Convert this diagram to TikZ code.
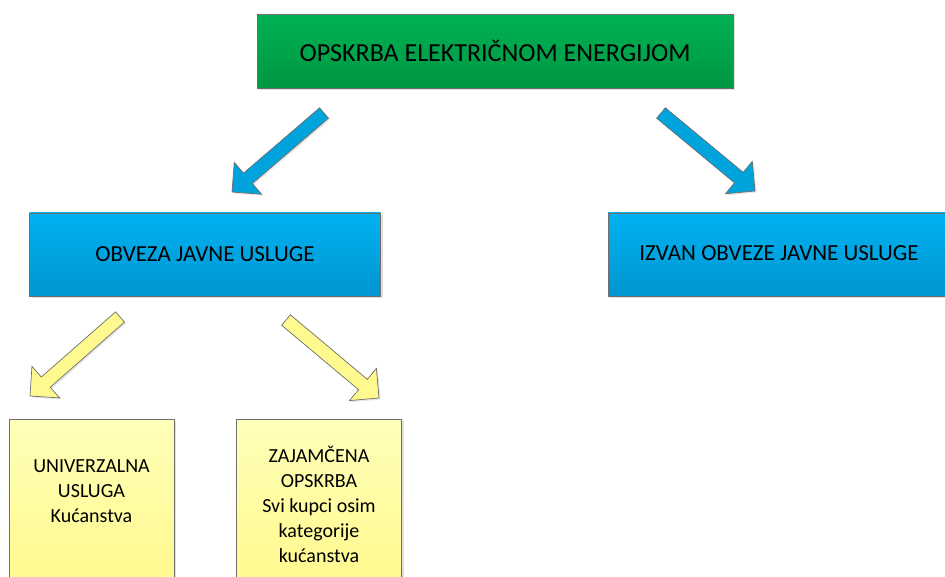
\documentclass[tikz,border=0pt]{standalone}
\usepackage{fontspec}
\setmainfont{Carlito}
\usetikzlibrary{calc,shadows}

\definecolor{zelenaG}{RGB}{0,178,82}
\definecolor{zelenaD}{RGB}{0,150,68}
\definecolor{plavaG}{RGB}{0,178,240}
\definecolor{plavaD}{RGB}{0,150,210}
\definecolor{zutaG}{RGB}{255,255,185}
\definecolor{zutaD}{RGB}{255,249,140}
\definecolor{rub}{RGB}{110,110,110}

\tikzset{
  okvir/.style={draw=rub, line width=0.8pt, drop shadow={opacity=0.25, shadow xshift=2pt, shadow yshift=-2pt}},
  zelena/.style={okvir, top color=zelenaG, bottom color=zelenaD, minimum width=476pt, minimum height=74pt, font=\fontsize{26}{31}\selectfont},
  plava/.style={okvir, top color=plavaG, bottom color=plavaD, minimum height=83pt, font=\fontsize{23}{28}\selectfont},
  zuta/.style={okvir, top color=zutaG, bottom color=zutaD, minimum width=165pt, minimum height=170pt, align=center, font=\fontsize{20}{25}\selectfont},
  strplava/.style={draw=rub, line width=0.7pt, fill=plavaG!92!black, drop shadow={opacity=0.2, shadow xshift=1.5pt, shadow yshift=-1.5pt}},
  strzuta/.style={draw=rub, line width=0.7pt, fill=zutaD!90!zutaG, drop shadow={opacity=0.2, shadow xshift=1.5pt, shadow yshift=-1.5pt}}
}

% blok strelica: rep, vrh, stil
\newcommand\blokstrelica[3]{%
  \coordinate (#1-#2) at ($(#2)!21pt!(#1)$);
  \filldraw[#3] ($(#1)!6.8pt!90:(#2)$) -- ($(#1-#2)!6.8pt!90:(#2)$) -- ($(#1-#2)!21pt!90:(#2)$) -- (#2)
    -- ($(#1-#2)!21pt!-90:(#2)$) -- ($(#1-#2)!6.8pt!-90:(#2)$) -- ($(#1)!6.8pt!-90:(#2)$) -- cycle;
}

\begin{document}
\begin{tikzpicture}[x=1pt, y=-1pt]
\useasboundingbox (0,0) rectangle (945,577);
% Okviri
\node[zelena] (opskrba) at (495,51.5) {\raisebox{1.5pt}{OPSKRBA ELEKTRIČNOM ENERGIJOM}};
\node[plava, minimum width=351pt] (javna) at (205,254.5) {OBVEZA JAVNE USLUGE};
\node[plava, minimum width=342pt] (izvan) at (779,254.5) {\raisebox{2pt}{IZVAN OBVEZE JAVNE USLUGE}};
\node[zuta] (univerzalna) at (91.5,504) {UNIVERZALNA\\USLUGA\\Kućanstva\\\mbox{}};
\node[zuta] (zajamcena) at (319,504) {ZAJAMČENA\\OPSKRBA\\Svi kupci osim\\kategorije\\kućanstva};
% Strelice
\coordinate (r1) at (324,113);
\coordinate (v1) at (232,192);
\coordinate (r2) at (661,113);
\coordinate (v2) at (755,191);
\coordinate (r3) at (120,317);
\coordinate (v3) at (30,396);
\coordinate (r4) at (286,320);
\coordinate (v4) at (379,398);
\blokstrelica{r1}{v1}{strplava}
\blokstrelica{r2}{v2}{strplava}
\blokstrelica{r3}{v3}{strzuta}
\blokstrelica{r4}{v4}{strzuta}
\end{tikzpicture}
\end{document}
